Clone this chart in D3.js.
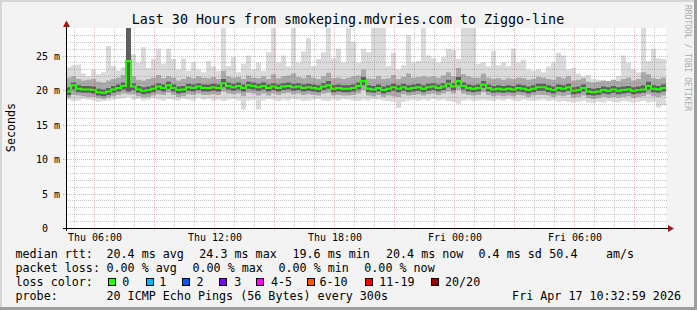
<!DOCTYPE html>
<html>
<head>
<meta charset="utf-8">
<script src="https://cdn.jsdelivr.net/npm/d3@7"></script>
<style>
  body { margin: 0; background: #f3f3f3; }
  svg text { font-family: "DejaVu Sans Mono", monospace; fill: #000; white-space: pre; }
</style>
</head>
<body>
<svg id="chart" width="697" height="310"></svg>
<script>
// 120 samples, one per 15 minutes, values in ms
const median = [
  19.8, 20.7, 20.2, 20.1, 20.1, 20.0, 19.7, 19.6, 19.8, 20.1, 20.3, 20.6,
  24.2, 20.5, 20.1, 19.9, 20.0, 20.2, 20.5, 20.3, 20.7, 20.3, 20.0, 20.1,
  20.4, 20.3, 20.5, 20.3, 20.3, 20.4, 20.3, 21.0, 20.6, 20.4, 20.6, 20.3,
  20.7, 20.6, 20.4, 20.6, 20.3, 20.5, 20.3, 20.5, 20.6, 20.4, 20.5, 20.3,
  20.4, 20.3, 20.2, 20.5, 20.7, 20.2, 20.3, 20.2, 20.2, 20.3, 20.6, 21.3,
  20.2, 20.1, 20.3, 20.0, 20.2, 20.4, 20.2, 20.4, 20.2, 20.3, 20.4, 20.2,
  20.4, 20.5, 20.3, 20.5, 20.9, 20.5, 21.3, 20.6, 20.3, 20.2, 20.3, 20.8,
  20.3, 20.1, 20.2, 20.1, 20.2, 20.1, 20.3, 20.2, 20.0, 20.2, 20.4, 20.4,
  20.2, 20.0, 20.3, 20.2, 20.4, 19.9, 20.0, 20.3, 19.8, 19.7, 19.8, 20.0,
  19.9, 20.1, 19.9, 20.0, 20.1, 19.9, 20.0, 20.1, 20.6, 20.2, 20.1, 20.3
];
const pingMax = [
  23.3, 23.6, 23.7, 22.4, 22.0, 23.0, 22.3, 22.6, 26.4, 23.5, 22.8, 23.3,
  29.5, 25.2, 24.0, 26.2, 23.2, 24.5, 26.0, 23.8, 26.0, 24.5, 23.0, 24.6,
  22.8, 24.0, 23.0, 22.6, 24.2, 23.4, 22.8, 29.5, 23.5, 24.8, 22.6, 23.8,
  25.0, 23.0, 24.0, 22.8, 25.5, 29.5, 24.0, 25.0, 23.4, 29.5, 24.0, 25.6,
  27.5, 23.5, 24.5, 25.5, 29.5, 24.6, 26.0, 24.0, 29.5, 27.0, 24.0, 26.0,
  25.5, 29.5, 29.5, 29.5, 23.5, 25.4, 23.0, 23.6, 28.0, 24.0, 24.2, 29.5,
  25.0, 24.6, 24.0, 24.8, 26.0, 25.8, 24.5, 29.5, 29.5, 29.5, 23.8, 24.0,
  23.4, 25.7, 23.6, 24.0, 23.5, 26.0, 24.0, 24.4, 23.0, 22.8, 23.0, 22.6,
  23.4, 24.0, 25.4, 25.0, 23.0, 23.2, 22.4, 22.0, 22.2, 21.6, 21.5, 21.3,
  21.2, 21.4, 22.0, 25.0, 24.0, 23.0, 22.6, 29.5, 24.2, 26.0, 24.6, 24.5
];
const pingMin = [
  18.6, 18.4, 18.5, 18.7, 18.6, 18.5, 18.3, 18.4, 18.5, 18.6, 18.7, 18.8,
  19.0, 18.6, 18.7, 18.5, 18.6, 18.8, 18.6, 18.5, 18.7, 18.6, 18.5, 18.7,
  18.6, 18.5, 18.8, 18.6, 18.7, 18.5, 18.6, 18.4, 18.6, 18.7, 18.5, 17.2,
  18.5, 18.6, 17.2, 18.5, 18.7, 18.6, 18.4, 18.6, 18.5, 18.7, 18.6, 18.4,
  18.5, 18.6, 18.7, 18.5, 18.4, 18.6, 18.5, 18.7, 18.6, 18.5, 18.4, 18.6,
  18.5, 18.7, 18.6, 18.5, 18.4, 18.3, 17.4, 18.3, 18.5, 18.6, 18.4, 18.6,
  18.5, 18.7, 18.5, 18.6, 18.4, 18.3, 18.0, 18.5, 18.6, 18.4, 18.5, 18.6,
  18.5, 18.4, 18.6, 18.5, 18.7, 18.5, 18.4, 18.6, 18.5, 18.4, 18.5, 18.6,
  18.4, 18.5, 18.3, 18.4, 18.3, 18.2, 18.3, 18.4, 18.2, 18.1, 18.3, 18.2,
  18.4, 18.3, 18.2, 18.4, 18.3, 18.2, 18.3, 18.4, 18.2, 18.3, 17.5, 17.8
];
const p90 = [
  21.8, 22.0, 21.6, 21.4, 21.5, 21.6, 21.2, 21.1, 21.4, 21.6, 21.8, 22.2,
  29.5, 22.0, 21.5, 21.4, 21.6, 21.8, 22.2, 21.7, 22.0, 21.8, 21.4, 21.6,
  21.9, 21.7, 22.0, 21.8, 21.7, 21.9, 21.6, 22.8, 22.0, 21.8, 21.9, 21.6,
  22.1, 21.8, 21.7, 22.0, 21.6, 22.3, 21.7, 22.0, 22.1, 22.4, 21.9, 21.7,
  22.2, 21.8, 21.6, 22.0, 22.5, 21.7, 21.8, 21.6, 21.8, 22.0, 22.1, 23.0,
  21.7, 21.6, 22.0, 21.6, 21.7, 22.2, 21.6, 21.9, 22.4, 21.8, 21.9, 22.0,
  21.9, 22.0, 21.8, 22.1, 22.6, 22.0, 23.2, 22.3, 22.0, 21.8, 21.8, 22.4,
  21.8, 21.6, 21.7, 21.5, 21.7, 21.6, 21.8, 21.7, 21.5, 21.6, 21.9, 21.8,
  21.6, 21.5, 21.9, 21.7, 22.0, 21.4, 21.5, 21.7, 21.2, 21.1, 21.2, 21.4,
  21.3, 21.5, 21.3, 21.6, 21.8, 21.4, 21.6, 22.6, 22.3, 21.7, 21.6, 21.8
];
const p10 = [
  18.9, 19.3, 19.2, 19.1, 19.0, 19.0, 18.8, 18.7, 18.9, 19.1, 19.3, 19.5,
  19.4, 19.4, 19.1, 18.9, 19.0, 19.2, 19.4, 19.3, 19.6, 19.3, 19.0, 19.1,
  19.4, 19.3, 19.5, 19.3, 19.3, 19.4, 19.3, 19.8, 19.5, 19.4, 19.5, 19.1,
  19.6, 19.5, 19.2, 19.5, 19.2, 19.5, 19.3, 19.5, 19.6, 19.4, 19.5, 19.3,
  19.4, 19.3, 19.2, 19.5, 19.6, 19.2, 19.3, 19.2, 19.2, 19.3, 19.5, 20.0,
  19.2, 19.1, 19.3, 19.0, 19.2, 19.1, 19.0, 19.4, 19.2, 19.3, 19.4, 19.2,
  19.4, 19.5, 19.3, 19.5, 19.8, 19.5, 20.0, 19.5, 19.3, 19.2, 19.3, 19.7,
  19.3, 19.1, 19.2, 19.1, 19.2, 19.1, 19.3, 19.2, 19.0, 19.2, 19.3, 19.3,
  19.2, 19.0, 19.2, 19.1, 19.3, 18.9, 19.0, 19.2, 18.8, 18.7, 18.8, 19.0,
  18.9, 19.0, 18.9, 19.0, 19.1, 18.9, 19.0, 19.1, 19.4, 19.1, 19.0, 19.2
];
const p75 = [
  20.4, 21.1, 20.7, 20.6, 20.6, 20.5, 20.2, 20.1, 20.3, 20.6, 20.8, 21.1,
  29.5, 21.0, 20.6, 20.4, 20.5, 20.7, 21.0, 20.8, 21.2, 20.8, 20.5, 20.6,
  20.9, 20.8, 21.0, 20.8, 20.8, 20.9, 20.8, 21.6, 21.1, 20.9, 21.1, 20.8,
  21.2, 21.1, 20.9, 21.1, 20.8, 21.0, 20.8, 21.0, 21.1, 20.9, 21.0, 20.8,
  20.9, 20.8, 20.7, 21.0, 21.3, 20.7, 20.8, 20.7, 20.7, 20.8, 21.1, 21.9,
  20.7, 20.6, 20.8, 20.5, 20.7, 20.9, 20.7, 20.9, 20.7, 20.8, 20.9, 20.7,
  20.9, 21.0, 20.8, 21.0, 21.5, 21.0, 21.9, 21.1, 20.8, 20.7, 20.8, 21.3,
  20.8, 20.6, 20.7, 20.6, 20.7, 20.6, 20.8, 20.7, 20.5, 20.7, 20.9, 20.9,
  20.7, 20.5, 20.8, 20.7, 20.9, 20.4, 20.5, 20.8, 20.3, 20.2, 20.3, 20.5,
  20.4, 20.6, 20.4, 20.5, 20.6, 20.4, 20.5, 20.7, 21.2, 20.7, 20.6, 20.8
];
const p25 = [
  19.3, 20.1, 19.7, 19.6, 19.6, 19.5, 19.2, 19.1, 19.3, 19.6, 19.8, 20.1,
  19.8, 20.0, 19.6, 19.4, 19.5, 19.7, 20.0, 19.8, 20.2, 19.8, 19.5, 19.6,
  19.9, 19.8, 20.0, 19.8, 19.8, 19.9, 19.8, 20.4, 20.1, 19.9, 20.1, 19.8,
  20.2, 20.1, 19.9, 20.1, 19.8, 20.0, 19.8, 20.0, 20.1, 19.9, 20.0, 19.8,
  19.9, 19.8, 19.7, 20.0, 20.2, 19.7, 19.8, 19.7, 19.7, 19.8, 20.1, 20.7,
  19.7, 19.6, 19.8, 19.5, 19.7, 19.9, 19.7, 19.9, 19.7, 19.8, 19.9, 19.7,
  19.9, 20.0, 19.8, 20.0, 20.4, 20.0, 20.7, 20.1, 19.8, 19.7, 19.8, 20.3,
  19.8, 19.6, 19.7, 19.6, 19.7, 19.6, 19.8, 19.7, 19.5, 19.7, 19.9, 19.9,
  19.7, 19.5, 19.8, 19.7, 19.9, 19.4, 19.5, 19.8, 19.3, 19.2, 19.3, 19.5,
  19.4, 19.6, 19.4, 19.5, 19.6, 19.4, 19.5, 19.6, 20.1, 19.7, 19.6, 19.8
];

const yTicks = [0, 5, 10, 15, 20, 25];
const yTickLabels = ["0  ", "5 m", "10 m", "15 m", "20 m", "25 m"];
const rttStats = ["20.4 ms avg", "24.3 ms max", "19.6 ms min", "20.4 ms now", "0.4 ms sd", "50.4", "am/s"];
const lossStats = ["0.00 % avg", "0.00 % max", "0.00 % min", "0.00 % now"];
const lossNames = ["0", "1", "2", "3", "4-5", "6-10", "11-19", "20/20"];
const lossColors = ["#26ff00", "#00b8ff", "#0059ff", "#7e00ff", "#ff00ff", "#ff5500", "#ff0000", "#a00000"];

const svg = d3.select("#chart");
const W = 697, H = 310;
const pL = 66, pR = 666, pT = 28, pB = 228;

// frame
svg.append("rect").attr("width", W).attr("height", H).attr("fill", "#f3f3f3");
svg.append("rect").attr("x", 0).attr("y", 0).attr("width", W).attr("height", 2).attr("fill", "#d6d6d6");
svg.append("rect").attr("x", 0).attr("y", 0).attr("width", 2).attr("height", H).attr("fill", "#d6d6d6");
svg.append("rect").attr("x", W - 3).attr("y", 0).attr("width", 3).attr("height", H).attr("fill", "#9e9e9e");
svg.append("rect").attr("x", 0).attr("y", H - 3).attr("width", W).attr("height", 3).attr("fill", "#9e9e9e");

const t0 = new Date(Date.UTC(2026, 3, 16, 4, 33));
const t1 = new Date(Date.UTC(2026, 3, 17, 10, 33));
const x = d3.scaleUtc([t0, t1], [pL, pR]);
const y = d3.scaleLinear([0, 29], [pB, pT]);
const step = (t1 - t0) / median.length;
const tAt = i => new Date(+t0 + i * step);

svg.append("rect").attr("x", pL).attr("y", pT).attr("width", pR - pL).attr("height", pB - pT).attr("fill", "#fff");
svg.append("clipPath").attr("id", "clip").append("rect")
  .attr("x", pL).attr("y", pT).attr("width", pR - pL).attr("height", pB - pT);
const plot = svg.append("g").attr("clip-path", "url(#clip)");

function band(lo, hi, color) {
  const pts = d3.range(lo.length + 1).map(i => {
    const k = Math.min(i, lo.length - 1);
    return [tAt(i), lo[k], hi[k]];
  });
  plot.append("path").datum(pts).attr("fill", color)
    .attr("d", d3.area().curve(d3.curveStepAfter)
      .x(d => x(d[0])).y0(d => y(d[1])).y1(d => y(d[2])));
}
band(pingMin, pingMax, "#dadada");
band(p10, p90, "#a9a9a9");
band(p25, p75, "#5e5e5e");

// grid on top of the smoke, like rrdtool
const gridMinor = "rgba(120,120,120,0.4)", gridMajor = "rgba(220,50,50,0.38)";
const grid = svg.append("g").attr("shape-rendering", "crispEdges").attr("stroke-dasharray", "1,1");
const minorY = d3.range(1, 29).filter(v => v % 5 != 0);
grid.selectAll(".hmin").data(minorY).join("line")
  .attr("x1", pL).attr("x2", pR + 2)
  .attr("y1", d => Math.round(y(d)) + 0.5).attr("y2", d => Math.round(y(d)) + 0.5)
  .attr("stroke", gridMinor);
const hours = d3.utcHour.range(t0, t1);
grid.selectAll(".vmin").data(hours.filter(h => h.getUTCHours() % 3 != 0)).join("line")
  .attr("x1", d => Math.round(x(d)) - 0.5).attr("x2", d => Math.round(x(d)) - 0.5)
  .attr("y1", pT).attr("y2", pB)
  .attr("stroke", gridMinor);
grid.selectAll(".hmaj").data(yTicks.slice(1)).join("line")
  .attr("x1", pL - 3).attr("x2", pR + 3)
  .attr("y1", d => Math.round(y(d)) + 0.5).attr("y2", d => Math.round(y(d)) + 0.5)
  .attr("stroke", gridMajor);
grid.selectAll(".vmaj").data(hours.filter(h => h.getUTCHours() % 3 == 0)).join("line")
  .attr("x1", d => Math.round(x(d)) - 0.5).attr("x2", d => Math.round(x(d)) - 0.5)
  .attr("y1", pT).attr("y2", pB + 3)
  .attr("stroke", gridMajor);

// median line
const medPts = d3.range(median.length + 1).map(i => [tAt(i), median[Math.min(i, median.length - 1)]]);
plot.append("path").datum(medPts).attr("fill", "none")
  .attr("stroke", lossColors[0]).attr("stroke-width", 2)
  .attr("d", d3.line().curve(d3.curveStepAfter).x(d => x(d[0])).y(d => y(d[1])));

// axes
svg.append("line").attr("x1", pL - 3).attr("x2", pR + 3).attr("y1", pB + 0.5).attr("y2", pB + 0.5)
  .attr("stroke", "#000").attr("shape-rendering", "crispEdges");
svg.append("line").attr("x1", pL + 0.5).attr("x2", pL + 0.5).attr("y1", pB + 3).attr("y2", pT - 3)
  .attr("stroke", "#000").attr("shape-rendering", "crispEdges");
svg.append("path").attr("d", `M${pR + 2},${pB - 3}L${pR + 8},${pB + 0.5}L${pR + 2},${pB + 4}Z`).attr("fill", "#a01818");
svg.append("path").attr("d", `M${pL - 3},${pT - 1}L${pL + 0.5},${pT - 7.5}L${pL + 4},${pT - 1}Z`).attr("fill", "#a01818");

// tick labels
svg.selectAll(".ylab").data(yTicks).join("text")
  .attr("x", 60).attr("y", d => Math.round(y(d)) + 4)
  .attr("text-anchor", "end").attr("font-size", 10)
  .text((d, i) => yTickLabels[i]);
const fmt = d3.utcFormat("%a %H:%M");
svg.selectAll(".xlab").data(hours.filter(h => h.getUTCHours() % 6 == 0)).join("text")
  .attr("x", d => Math.round(x(d))).attr("y", 240.5)
  .attr("text-anchor", "middle").attr("font-size", 10)
  .text(d => fmt(d));

// titles
svg.append("text").attr("x", 348).attr("y", 24).attr("text-anchor", "middle").attr("font-size", 13.3)
  .text("Last 30 Hours from smokeping.mdvries.com to Ziggo-line");
svg.append("text").attr("transform", "translate(14.5,127.5) rotate(-90)").attr("text-anchor", "middle")
  .attr("font-size", 11.7).text("Seconds");
svg.append("text").attr("transform", "translate(684.5,5) rotate(90)").attr("font-size", 8)
  .style("fill", "#adadad").text("RRDTOOL / TOBI OETIKER");

// legend
const lg = svg.append("g").attr("font-size", 11.7);
const rttX = [106.5, 199.3, 292.5, 386, 478.5, 549.3, 606];
lg.append("text").attr("x", 15.5).attr("y", 258).text("median rtt:");
lg.selectAll(".rtt").data(rttStats).join("text").attr("x", (d, i) => rttX[i]).attr("y", 258).text(d => d);
const lossX = [106.5, 192.5, 278.5, 364.3];
lg.append("text").attr("x", 15.5).attr("y", 272).text("packet loss:");
lg.selectAll(".loss").data(lossStats).join("text").attr("x", (d, i) => lossX[i]).attr("y", 272).text(d => d);
lg.append("text").attr("x", 15.5).attr("y", 286).text("loss color:");
const boxX = [108, 146, 182, 219, 256, 307, 365, 431];
const nameX = [122.3, 159.3, 196.5, 234.3, 271, 319.5, 379.3, 445];
lg.selectAll(".box").data(lossColors).join("rect")
  .attr("x", (d, i) => boxX[i] + 0.5).attr("y", 278.5).attr("width", 7).attr("height", 7)
  .attr("fill", d => d).attr("stroke", "#000");
lg.selectAll(".lname").data(lossNames).join("text").attr("x", (d, i) => nameX[i]).attr("y", 286).text(d => d);
lg.append("text").attr("x", 15.5).attr("y", 300).text("probe:");
lg.append("text").attr("x", 106.5).attr("y", 300).text("20 ICMP Echo Pings (56 Bytes) every 300s");
lg.append("text").attr("x", 681).attr("y", 300).attr("text-anchor", "end").text("Fri Apr 17 10:32:59 2026");
</script>
</body>
</html>
